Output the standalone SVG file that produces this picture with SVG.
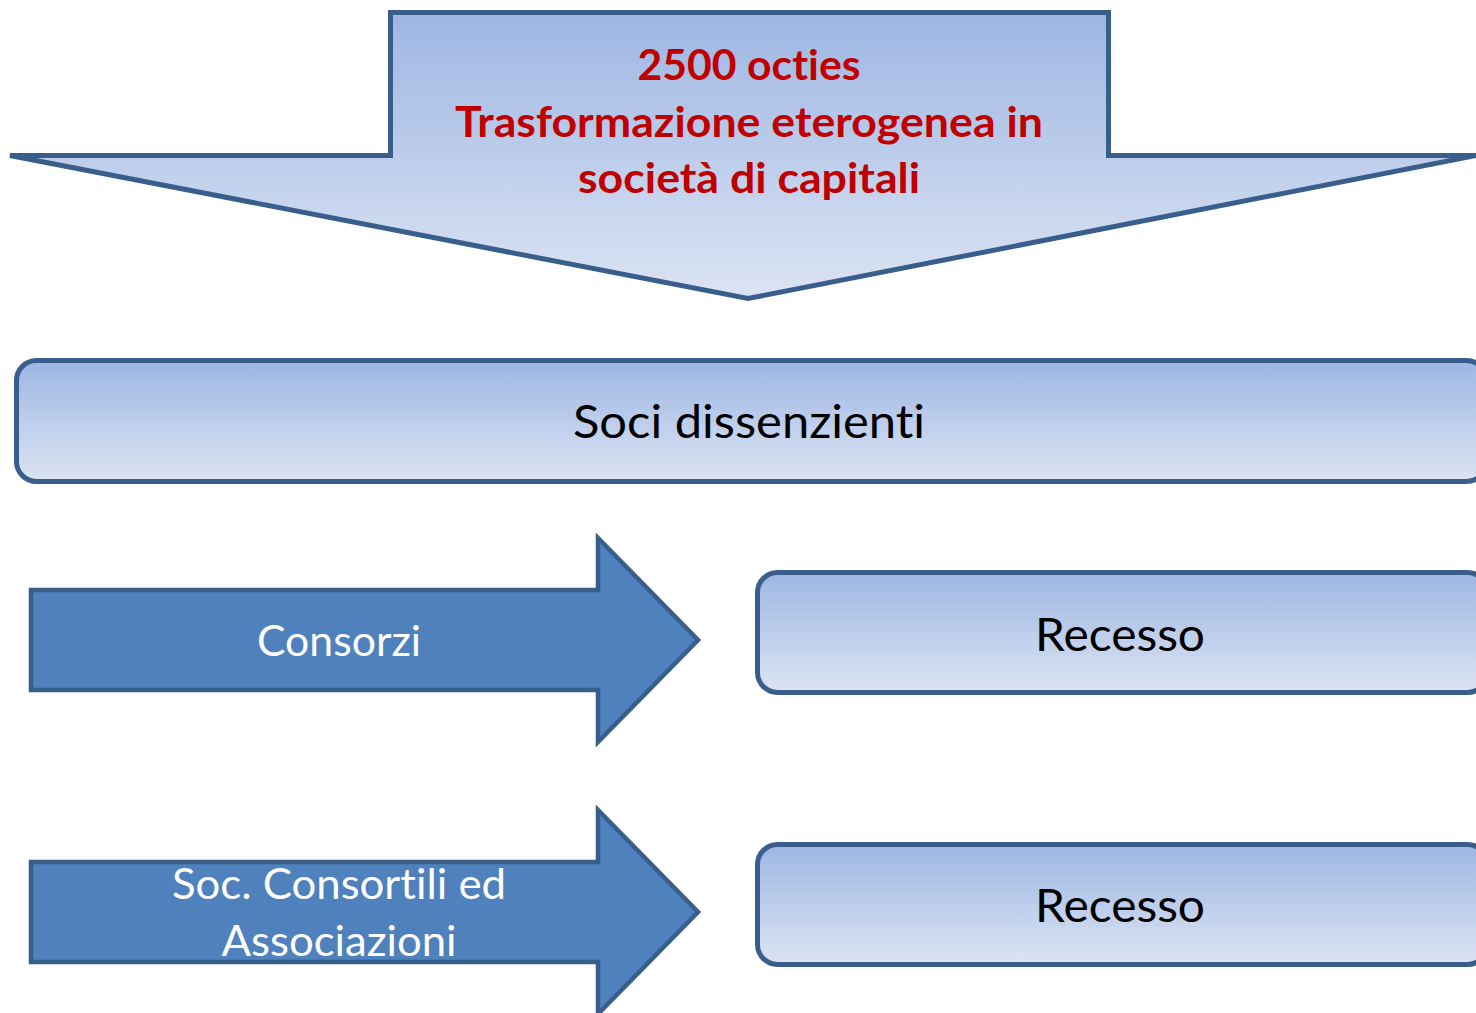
<svg xmlns="http://www.w3.org/2000/svg" width="1476" height="1013" viewBox="0 0 1476 1013">
<defs>
<linearGradient id="g" x1="0" y1="0" x2="0" y2="1">
<stop offset="0" stop-color="#9db6e3"/>
<stop offset="1" stop-color="#dce4f3"/>
</linearGradient>
<style>
.box{fill:url(#g);stroke:#3a5e8c;stroke-width:5;stroke-linejoin:miter}
.arr{fill:#4f81bd;stroke:#3a5e8c;stroke-width:4.5;stroke-linejoin:miter}
.t{font-family:Lato,"Open Sans","Liberation Sans",sans-serif;text-anchor:middle;font-variant-ligatures:none;font-feature-settings:"liga" 0,"clig" 0}
.red{fill:#c00000;font-weight:bold;font-size:42px}
.blk{fill:#000;font-size:46px}
.wht{fill:#fff;font-size:42px}
</style>
</defs>
<g id="top-arrow">
<path class="box" d="M390.5,12.5 H1108.5 V155.5 H1476 L748,298.5 L10,155.5 H390.5 Z"/>
<text class="t red" x="749" y="80" textLength="223" lengthAdjust="spacingAndGlyphs">2500 octies</text>
<text class="t red" x="749" y="137" textLength="588" lengthAdjust="spacingAndGlyphs">Trasformazione eterogenea in</text>
<text class="t red" x="749" y="193" textLength="342" lengthAdjust="spacingAndGlyphs">società di capitali</text>
</g>
<g id="soci">
<rect class="box" x="16.5" y="360.5" width="1470" height="121" rx="20"/>
<text class="t blk" x="749" y="438" textLength="352" lengthAdjust="spacingAndGlyphs">Soci dissenzienti</text>
</g>
<g id="consorzi">
<path class="arr" d="M31,590 H598 V538 L698,640 L598,742 V690 H31 Z"/>
<text class="t wht" x="339" y="656" textLength="164" lengthAdjust="spacingAndGlyphs">Consorzi</text>
</g>
<g id="recesso1">
<rect class="box" x="757.5" y="572.5" width="730" height="120" rx="20"/>
<text class="t blk" x="1120" y="651" textLength="170" lengthAdjust="spacingAndGlyphs">Recesso</text>
</g>
<g id="soc-consortili">
<path class="arr" d="M31,862 H598 V810 L698,912 L598,1014 V962 H31 Z"/>
<text class="t wht" x="339" y="899" textLength="334" lengthAdjust="spacingAndGlyphs">Soc. Consortili ed</text>
<text class="t wht" x="339" y="956" textLength="235" lengthAdjust="spacingAndGlyphs">Associazioni</text>
</g>
<g id="recesso2">
<rect class="box" x="757.5" y="844.5" width="730" height="120" rx="20"/>
<text class="t blk" x="1120" y="922" textLength="170" lengthAdjust="spacingAndGlyphs">Recesso</text>
</g>
<g id="connectors"></g>
</svg>
